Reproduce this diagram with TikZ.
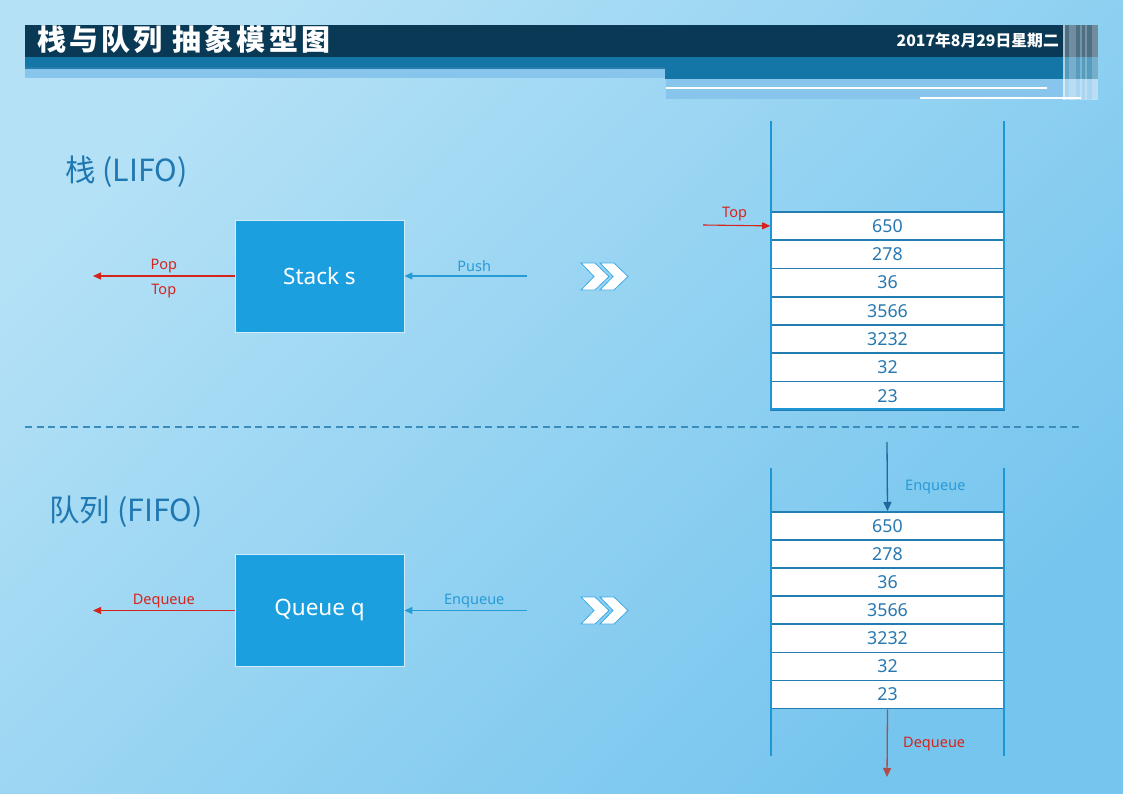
\documentclass[tikz,border=0pt]{standalone}
\usepackage{fontspec}
\setmainfont{Noto Sans}
\newfontfamily\cjk{Noto Sans CJK SC}
\newfontfamily\cjktitle[LetterSpace=11]{Noto Sans CJK SC}
\usetikzlibrary{arrows.meta}
\definecolor{bgA}{RGB}{180,225,246}
\definecolor{bgB}{RGB}{118,197,238}
\definecolor{hdark}{RGB}{10,57,85}
\definecolor{hmid}{RGB}{20,118,166}
\definecolor{hline}{RGB}{40,125,175}
\definecolor{hlight}{RGB}{136,197,236}
\definecolor{boxblue}{RGB}{28,159,223}
\definecolor{titleblue}{RGB}{32,120,178}
\definecolor{arrred}{RGB}{212,36,28}
\definecolor{arrblue}{RGB}{40,155,215}
\definecolor{wallblue}{RGB}{28,150,212}
\definecolor{cellline}{RGB}{36,125,178}
\definecolor{celltext}{RGB}{40,120,176}
\definecolor{sepblue}{RGB}{58,140,188}
\definecolor{darkarr}{RGB}{30,105,155}
\definecolor{chevline}{RGB}{60,170,230}
\begin{document}
\begin{tikzpicture}[x=1pt,y=-1pt,
  bigbox/.style={draw=white!80!boxblue, line width=0.8pt, fill=boxblue, minimum width=169pt, minimum height=112pt, inner sep=0pt, text=white, font=\fontsize{22.5}{25}\selectfont},
  cell/.style={draw=cellline, line width=1.6pt, fill=white, minimum width=233pt, minimum height=28.2pt, inner sep=0pt, anchor=north, text=celltext, font=\fontsize{17.8}{19}\selectfont},
  wall/.style={draw=wallblue, line width=2.3pt},
  redarrow/.style={draw=arrred, line width=1.1pt, -{Triangle[length=8pt,width=7pt]}},
  bluearrow/.style={draw=arrblue, line width=1.1pt, -{Triangle[length=8pt,width=7pt]}},
  lbl/.style={font=\fontsize{14.5}{16}\selectfont, inner sep=0pt},
  sectitle/.style={anchor=west, text=titleblue, font=\cjk\fontsize{30.5}{32}\selectfont, inner sep=0pt},
  chev/.style={fill=white, draw=chevline, line width=0.8pt, line join=miter}
]
\useasboundingbox (0,0) rectangle (1123,794);
% background
\shade[top color=bgA, bottom color=bgB, shading angle=45] (0,0) rectangle (1123,794);

% header
\fill[hdark] (25,25) rectangle (1098,57);
\fill[hmid] (25,57) rectangle (1098,67);
\fill[hline] (25,67) rectangle (665,69);
\fill[hlight] (25,69) rectangle (665,78);
\fill[hmid] (665,57) rectangle (1098,79);
\fill[hlight] (666,79) rectangle (1098,99);
\fill[white] (666,87) rectangle (1047,89.5);
\fill[white] (920,97) rectangle (1081,99.5);
\fill[white, opacity=0.28] (1063,25) rectangle (1098,100);
\fill[white, opacity=0.55] (1063,25) rectangle (1064.5,100);
\fill[white, opacity=0.2] (1069,25) rectangle (1076,100);
\fill[white, opacity=0.25] (1080,25) rectangle (1082,100);
\fill[white, opacity=0.25] (1085,25) rectangle (1087,100);
\fill[white, opacity=0.2] (1092,25) rectangle (1098,100);

\node[anchor=west, text=white, font=\cjktitle\bfseries\fontsize{29}{30}\selectfont, inner sep=0pt] (title) at (37,40) {栈与队列 抽象模型图};
\node[anchor=east, text=white, font=\cjk\bfseries\fontsize{15.8}{17}\selectfont, inner sep=0pt] (date) at (1059,40) {2017年8月29日星期二};

% section titles
\node[sectitle] (lifo) at (65,172) {栈 (LIFO)};
\node[sectitle] (fifo) at (49,512) {队列 (FIFO)};

% separator
\coordinate (sepL) at (25,427);
\coordinate (sepR) at (1080,427);
\draw[sepblue, line width=1.2pt, dash pattern=on 7pt off 4.5pt] (sepL) -- (sepR);

% ---------- stack ----------
\node[bigbox] (stack) at (319.5,276) {Stack s};
\coordinate (popend) at (93,276);
\coordinate (pushstart) at (527,276);
\draw[redarrow] (stack.west) -- (popend)
  node[pos=0.5, above=2pt, lbl, text=arrred] (poplbl) {Pop}
  node[pos=0.5, below=8pt, lbl, text=arrred] (toplbl) {Top};
\draw[bluearrow] (pushstart) -- (stack.east)
  node[pos=0.43, above=4pt, lbl, text=arrblue] (pushlbl) {Push};

% chevrons stack
\draw[chev] (581,263) -- (595,263) -- (609,276.5) -- (595,290) -- (581,290) -- (594,276.5) -- cycle;
\draw[chev] (600,263) -- (614,263) -- (628,276.5) -- (614,290) -- (600,290) -- (613,276.5) -- cycle;

% stack cells
\node[cell] (s1) at (887.5,211.0) {650};
\node[cell] (s2) at (887.5,239.3) {278};
\node[cell] (s3) at (887.5,267.6) {36};
\node[cell] (s4) at (887.5,295.9) {3566};
\node[cell] (s5) at (887.5,324.2) {3232};
\node[cell] (s6) at (887.5,352.5) {32};
\node[cell] (s7) at (887.5,380.8) {23};
\coordinate (sw1) at (771,121);
\coordinate (sw2) at (771,409);
\coordinate (sw3) at (1004,121);
\coordinate (sw4) at (1004,409);
\draw[wall] (sw1) -- (sw2) -- (sw4) -- (sw3);
\coordinate (topstart) at (703,225);
\draw[redarrow] (topstart) -- (s1.west)
  node[pos=0.47, above=4pt, lbl, text=arrred] (toparrlbl) {Top};

% ---------- queue ----------
\node[bigbox] (queue) at (319.5,610.5) {Queue q};
\coordinate (deqend) at (93,610.5);
\coordinate (enqstart) at (527,610.5);
\draw[redarrow] (queue.west) -- (deqend)
  node[pos=0.5, above=2pt, lbl, text=arrred] (deqlbl) {Dequeue};
\draw[bluearrow] (enqstart) -- (queue.east)
  node[pos=0.43, above=2pt, lbl, text=arrblue] (enqlbl) {Enqueue};

% chevrons queue
\draw[chev] (581,597) -- (595,597) -- (609,610.5) -- (595,624) -- (581,624) -- (594,610.5) -- cycle;
\draw[chev] (600,597) -- (614,597) -- (628,610.5) -- (614,624) -- (600,624) -- (613,610.5) -- cycle;

% queue cells
\node[cell] (q1) at (887.5,511.0) {650};
\node[cell] (q2) at (887.5,539.1) {278};
\node[cell] (q3) at (887.5,567.2) {36};
\node[cell] (q4) at (887.5,595.3) {3566};
\node[cell] (q5) at (887.5,623.4) {3232};
\node[cell] (q6) at (887.5,651.5) {32};
\node[cell] (q7) at (887.5,679.6) {23};
\coordinate (qw1) at (771,468);
\coordinate (qw2) at (771,756);
\coordinate (qw3) at (1004,468);
\coordinate (qw4) at (1004,756);
\draw[wall] (qw1) -- (qw2);
\draw[wall] (qw3) -- (qw4);
\coordinate (qenq) at (887,442);
\coordinate (qdeq) at (887,777);
\draw[draw=sepblue, line width=1.3pt, -{Triangle[length=9pt,width=8pt]}, darkarr] (qenq) -- (q1.north);
\node[lbl, text=arrblue, anchor=west] (qenqlbl) at (905,487) {Enqueue};
\draw[draw=arrred!55!gray, line width=1.3pt, -{Triangle[length=9pt,width=8pt]}] (q7.south) -- (qdeq);
\node[lbl, text=arrred, anchor=west] (qdeqlbl) at (903,744) {Dequeue};
\end{tikzpicture}
\end{document}
